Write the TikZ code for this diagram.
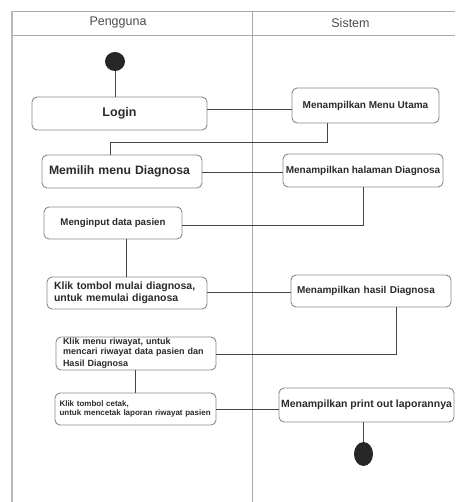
\documentclass[tikz,border=0pt]{standalone}
\usepackage{fontspec}
\setmainfont{Liberation Sans}
\usetikzlibrary{calc,shapes.geometric}
\definecolor{txt}{HTML}{2B2B2B}
\definecolor{boxline}{HTML}{8A8A8A}
\definecolor{conn}{HTML}{454545}
\definecolor{frame}{HTML}{A8A8A8}
\definecolor{dot}{HTML}{262626}
\begin{document}
\begin{tikzpicture}[x=1pt,y=-1pt,
  act/.style={draw=boxline,line width=0.9pt,rounded corners=5pt,fill=white,text=txt,inner sep=0pt,font=\bfseries},
  lane/.style={draw=frame,line width=0.8pt},
  edge/.style={draw=conn,line width=0.9pt},
  blob/.style={fill=dot,draw=none,ellipse,inner sep=0pt},
  hdr/.style={text=txt!85,inner sep=0pt,font=\fontsize{12.5}{14}\selectfont}
]
\useasboundingbox (0,0) rectangle (455,502);
% swimlane frame
\draw[lane] (12,11) -- (455,11);
\draw[lane] (12,35) -- (455,35);
\draw[draw=frame!80,line width=1.8pt] (12,11) -- (12,502);
\draw[lane] (252,11) -- (252,502);
\node[hdr] (h1) at (118,23) {Pengguna};
\node[hdr] (h2) at (350.5,23) {Sistem};

% start / end
\node[blob,minimum width=20pt,minimum height=19pt] (start) at (115,61.5) {};
\node[blob,minimum width=19pt,minimum height=24pt] (end) at (363.5,454) {};

% activities
\node[act,minimum width=175pt,minimum height=33pt,font=\bfseries\fontsize{12.5}{14}\selectfont] (login) at (119.5,113.5) {Login};
\node[act,minimum width=147pt,minimum height=35pt,font=\bfseries\fontsize{10}{12}\selectfont] (menu) at (365.5,105.5) {Menampilkan Menu Utama};
\node[act,minimum width=160pt,minimum height=33pt,font=\bfseries\fontsize{12.2}{14}\selectfont,align=left,text width=146pt,inner xsep=7pt] (memilih) at (122,171.5) {Memilih menu Diagnosa};
\node[act,minimum width=160pt,minimum height=33pt,font=\bfseries\fontsize{10}{12}\selectfont] (halaman) at (363,170.5) {Menampilkan halaman Diagnosa};
\node[act,minimum width=138pt,minimum height=32pt,font=\bfseries\fontsize{9.7}{12}\selectfont] (input) at (113,223) {\raisebox{3pt}{Menginput data pasien}};
\node[act,minimum width=160pt,minimum height=32pt,font=\bfseries\fontsize{10.5}{12}\selectfont,align=left,text width=146pt,inner xsep=7pt] (mulai) at (127,293) {Klik tombol mulai diagnosa,\\untuk memulai diganosa};
\node[act,minimum width=160pt,minimum height=32pt,font=\bfseries\fontsize{10}{12}\selectfont,align=left,text width=148pt,inner xsep=6pt] (hasil) at (371,291) {Menampilkan hasil Diagnosa};
\node[act,minimum width=160pt,minimum height=33pt,font=\bfseries\fontsize{9}{12}\selectfont,align=left,text width=146pt,inner xsep=7pt] (riwayat) at (136,353.5) {\raisebox{-2pt}{Klik menu riwayat, untuk}\\mencari riwayat data pasien dan\\Hasil Diagnosa};
\node[act,minimum width=161pt,minimum height=32pt,font=\bfseries\fontsize{8}{9.5}\selectfont,align=left,text width=152pt,inner xsep=4.5pt] (cetak) at (135.5,409) {Klik tombol cetak,\\untuk mencetak laporan riwayat pasien};
\node[act,minimum width=175pt,minimum height=34pt,font=\bfseries\fontsize{10.5}{12}\selectfont] (print) at (366.5,405) {Menampilkan print out laporannya};

% connectors
\draw[edge] (start.south) -- (login.north -| start.south);
\draw[edge] (login.east |- 0,109) -- (menu.west |- 0,109);
\draw[edge] (menu.south -| 327,0) |- (110,142) -- (memilih.north -| 110,0);
\draw[edge] (memilih.east |- 0,172) -- (halaman.west |- 0,172);
\draw[edge] (halaman.south) |- (input.east |- 0,225);
\draw[edge] (input.south -| 126,0) -- (mulai.north -| 126,0);
\draw[edge] (mulai.east |- 0,292) -- (hasil.west |- 0,292);
\draw[edge] (hasil.south -| 396,0) |- (riwayat.east |- 0,354);
\draw[edge] (riwayat.south -| 135,0) -- (cetak.north -| 135,0);
\draw[edge] (cetak.east |- 0,409) -- (print.west |- 0,409);
\draw[edge] (print.south -| end.north) -- (end.north);
\end{tikzpicture}
\end{document}
